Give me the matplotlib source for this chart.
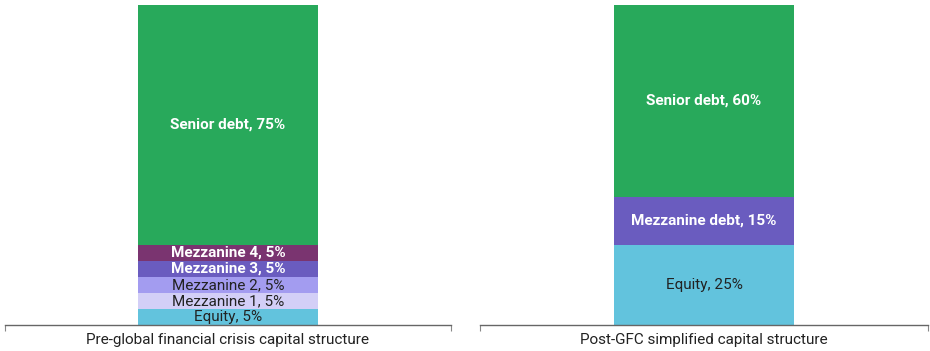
import matplotlib.pyplot as plt
from matplotlib import font_manager

# ------------------------------------------------------------
# DATA
# ------------------------------------------------------------
structures = ['Pre-global financial crisis capital structure',
              'Post-GFC simplified capital structure']

pre_layers = ['Equity', 'Mezzanine 1', 'Mezzanine 2', 'Mezzanine 3',
              'Mezzanine 4', 'Senior debt']
pre_values = [5, 5, 5, 5, 5, 75]

post_layers = ['Equity', 'Mezzanine debt', 'Senior debt']
post_values = [25, 15, 60]

# ------------------------------------------------------------
# STYLE
# ------------------------------------------------------------
names = {f.name for f in font_manager.fontManager.ttflist}
fam = [f for f in ['Liberation Sans Narrow', 'Roboto', 'DejaVu Sans'] if f in names]
plt.rcParams['font.family'] = fam

pre_colors = ['#62c3dd', '#d3cff7', '#a39cf0', '#6a5cbf', '#7a3470', '#28a95b']
pre_text = ['#222222', '#222222', '#222222', 'white', 'white', 'white']
post_colors = ['#62c3dd', '#6a5cbf', '#28a95b']
post_text = ['#222222', 'white', 'white']

fig = plt.figure(figsize=(9.3, 3.51), dpi=100)
ax1 = fig.add_axes([0.005, 0.074, 0.480, 0.912])
ax2 = fig.add_axes([0.516, 0.074, 0.482, 0.912])


def draw(ax, layers, values, colors, tcolors, title):
    bottom = 0
    for lay, v, c, tc in zip(layers, values, colors, tcolors):
        ax.bar(0, v, bottom=bottom, width=0.403, color=c, edgecolor='none')
        ax.text(0, bottom + v / 2, f'{lay}, {v}%', ha='center', va='center',
                color=tc, fontsize=11,
                fontweight='bold' if tc == 'white' else 'normal')
        bottom += v
    ax.set_xlim(-0.5, 0.5)
    ax.set_ylim(0, 100)
    for s in ['top', 'left', 'right']:
        ax.spines[s].set_visible(False)
    ax.spines['bottom'].set_color('#666666')
    ax.spines['bottom'].set_linewidth(1.0)
    ax.set_yticks([])
    ax.set_xticks([-0.5, 0.5])
    ax.set_xticklabels([])
    ax.tick_params(axis='x', direction='out', length=4, color='#888888')
    ax.text(0.5, -0.047, title, transform=ax.transAxes, ha='center',
            va='center', fontsize=11, color='#222222')


draw(ax1, pre_layers, pre_values, pre_colors, pre_text, structures[0])
draw(ax2, post_layers, post_values, post_colors, post_text, structures[1])

plt.savefig('out.png', dpi=100)
plt.close()
